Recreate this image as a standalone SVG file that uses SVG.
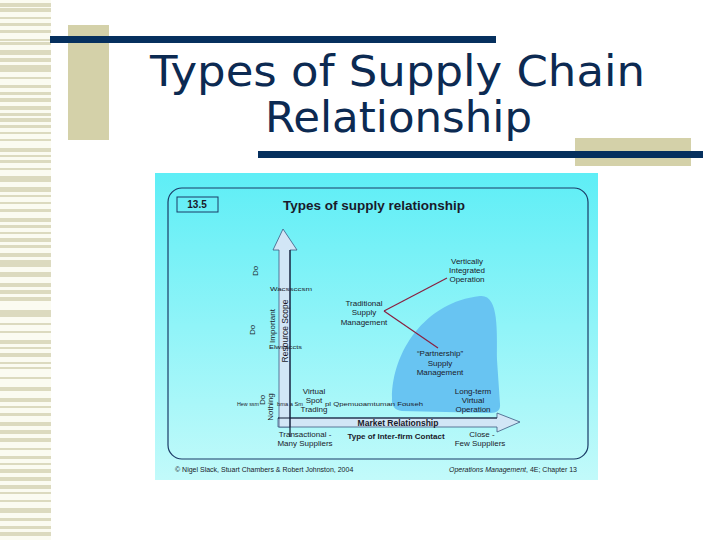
<svg xmlns="http://www.w3.org/2000/svg" width="720" height="540" viewBox="0 0 720 540">
<defs>
<linearGradient id="bg" x1="0" y1="0" x2="0" y2="1">
<stop offset="0" stop-color="#5eeef6"/>
<stop offset="1" stop-color="#c2fafa"/>
</linearGradient>
<style>
.lbl{font-family:"Liberation Sans",Arial,sans-serif;font-size:8px;fill:#1a1a2a;text-anchor:middle}
.bold{font-weight:bold}
.ttl{font-family:"DejaVu Sans","Liberation Sans",sans-serif;fill:#0c2a52;font-size:43px}
.stripe{fill:#dcdabf}
.navy{fill:#06305e}
.beige{fill:#d4d1a9}
.arr{fill:#d2e6f6;stroke:#3c5880;stroke-width:0.8}
.dark{stroke:#101830;stroke-width:1.2;fill:none}
.red{stroke:#8a2040;stroke-width:1.2;fill:none}
.garb{font-family:"Liberation Sans",Arial,sans-serif;font-size:5px;fill:#1a1a2a}
</style>
</defs>
<rect width="720" height="540" fill="#ffffff"/>
<g id="stripes">
<rect x="0" y="0" width="51" height="540" fill="#fbfbf1"/>
<path class="stripe" d="M0 3h51v4H0zM0 8h51v4H0zM0 17h51v2H0zM0 23h51v3H0zM0 30h51v3H0zM0 39h51v2H0zM0 42h51v3H0zM0 50h51v5H0zM0 58h51v4H0zM0 65h51v7H0zM0 77h51v2H0zM0 85h51v3H0zM0 92h51v3H0zM0 98h51v4H0zM0 106h51v4H0zM0 113h51v3H0zM0 118h51v4H0zM0 125h51v3H0zM0 132h51v2H0zM0 139h51v2H0zM0 148h51v4H0zM0 155h51v2H0zM0 160h51v3H0zM0 168h51v2H0zM0 176h51v6H0zM0 187h51v5H0zM0 195h51v2H0zM0 202h51v2H0zM0 209h51v3H0zM0 218h51v4H0zM0 225h51v3H0zM0 232h51v2H0zM0 238h51v4H0zM0 245h51v3H0zM0 253h51v4H0zM0 260h51v7H0zM0 272h51v5H0zM0 283h51v4H0zM0 290h51v4H0zM0 297h51v4H0zM0 310h51v7H0zM0 323h51v2H0zM0 331h51v2H0zM0 340h51v4H0zM0 347h51v2H0zM0 353h51v4H0zM0 362h51v2H0zM0 367h51v2H0zM0 377h51v2H0zM0 387h51v4H0zM0 398h51v4H0zM0 406h51v2H0zM0 413h51v3H0zM0 422h51v4H0zM0 430h51v4H0zM0 438h51v4H0zM0 448h51v2H0zM0 456h51v3H0zM0 463h51v2H0zM0 469h51v4H0zM0 477h51v4H0zM0 485h51v4H0zM0 492h51v2H0zM0 500h51v2H0zM0 508h51v5H0zM0 518h51v3H0zM0 526h51v3H0zM0 532h51v4H0z"/>
</g>
<g id="decor">
<rect class="beige" x="68" y="25" width="41" height="115"/>
<rect class="navy" x="50" y="36" width="446" height="7"/>
<rect class="beige" x="575" y="138" width="116" height="28"/>
<rect class="navy" x="258" y="151" width="445" height="7"/>
</g>
<g id="title">
<text class="ttl" x="150" y="86" textLength="495" lengthAdjust="spacingAndGlyphs">Types of Supply Chain</text>
<text class="ttl" x="265" y="132" textLength="267" lengthAdjust="spacingAndGlyphs">Relationship</text>
</g>
<g id="figure">
<rect x="155" y="173" width="443" height="307" fill="url(#bg)"/>
<rect x="168" y="188" width="420" height="271" rx="14" ry="14" fill="none" stroke="#1a3a66" stroke-width="1.2"/>
<rect x="177" y="197" width="41" height="15" fill="none" stroke="#1a3a66" stroke-width="1"/>
<text class="lbl bold" x="197" y="208" style="font-size:10px">13.5</text>
<text class="lbl bold" x="374" y="210" style="font-size:13.5px">Types of supply relationship</text>
</g>
<g id="blob">
<path d="M392 398 C392 352 425 302 480 296 C499 294 497 330 497 360 L500 404 Q501 413 490 413 L402 411 Q391 410 392 398 Z" fill="#68c4f2"/>
</g>
<g id="axes">
<polygon class="arr" points="278,418 497,418 497,413 520,422 497,432 497,427 278,427"/>
<polygon class="arr" points="279,427 279,250 273,250 283,229 297,250 290,250 290,427"/>
<line class="dark" x1="290" y1="250" x2="290" y2="437"/>
<line class="dark" x1="278" y1="418" x2="497" y2="418"/>
<text class="lbl bold" x="398" y="426" style="font-size:8.5px">Market Relationship</text>
<text class="lbl" transform="translate(288,331) rotate(-90)" style="font-size:8.5px">Resource Scope</text>
<text class="lbl" transform="translate(275,326) rotate(-90)">Important</text>
<text class="lbl" transform="translate(258,271) rotate(-90)">Do</text>
<text class="lbl" transform="translate(255,330) rotate(-90)">Do</text>
<text class="lbl" transform="translate(265,400) rotate(-90)">Do</text>
<text class="lbl" transform="translate(273,407) rotate(-90)">Nothing</text>
<text class="garb" x="270" y="291" textLength="42" lengthAdjust="spacingAndGlyphs">Wacssccsm</text>
<text class="garb" x="269" y="349" textLength="33" lengthAdjust="spacingAndGlyphs">Elwsaccts</text>
<text class="garb" x="237" y="406" textLength="22" lengthAdjust="spacingAndGlyphs">Hew ssm</text>
<text class="garb" x="277" y="406" textLength="26" lengthAdjust="spacingAndGlyphs">bma a Sm</text>
<text class="garb" x="325" y="406" textLength="98" lengthAdjust="spacingAndGlyphs">pl Qpemuoamtuman Fouseh</text>
</g>
<g id="connectors">
<line class="red" x1="384" y1="311" x2="447" y2="278"/>
<line class="red" x1="384" y1="311" x2="438" y2="348"/>
</g>
<g id="labels">
<text class="lbl" x="467" y="264">Vertically</text>
<text class="lbl" x="467" y="273">Integrated</text>
<text class="lbl" x="467" y="282">Operation</text>
<text class="lbl" x="364" y="306">Traditional</text>
<text class="lbl" x="364" y="315">Supply</text>
<text class="lbl" x="364" y="325">Management</text>
<text class="lbl" x="440" y="356">“Partnership”</text>
<text class="lbl" x="440" y="366">Supply</text>
<text class="lbl" x="440" y="375">Management</text>
<text class="lbl" x="314" y="394">Virtual</text>
<text class="lbl" x="314" y="403">Spot</text>
<text class="lbl" x="314" y="412">Trading</text>
<text class="lbl" x="473" y="394">Long-term</text>
<text class="lbl" x="473" y="403">Virtual</text>
<text class="lbl" x="473" y="412">Operation</text>
<text class="lbl" x="305" y="437">Transactional -</text>
<text class="lbl" x="305" y="446">Many Suppliers</text>
<text class="lbl bold" x="396" y="439">Type of Inter-firm Contact</text>
<text class="lbl" x="482" y="437">Close -</text>
<text class="lbl" x="480" y="446">Few Suppliers</text>
</g>
<g id="footer">
<text class="lbl" x="175" y="472" style="font-size:7px;text-anchor:start">© Nigel Slack, Stuart Chambers &amp; Robert Johnston, 2004</text>
<text class="lbl" x="577" y="472" style="font-size:7px;text-anchor:end"><tspan font-style="italic">Operations Management</tspan>, 4E; Chapter 13</text>
</g>
</svg>
